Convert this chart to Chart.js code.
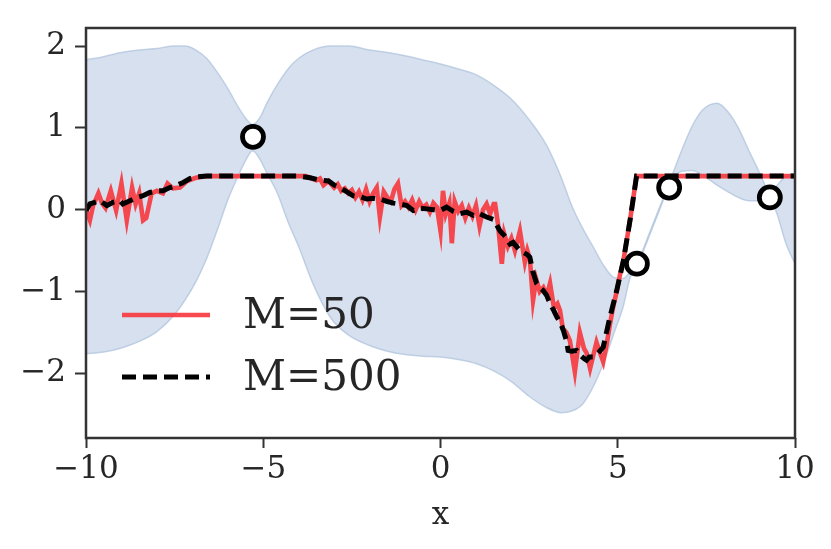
<!DOCTYPE html>
<html>
<head>
<meta charset="utf-8">
<script src="https://cdn.jsdelivr.net/npm/chart.js@4.4.1/dist/chart.umd.min.js"></script>
<style>
html,body{margin:0;padding:0;background:#fff;}
#wrap{width:831px;height:549px;}
</style>
</head>
<body>
<div id="wrap"><canvas id="c" width="831" height="549"></canvas></div>
<script>
// ---- data ----
const xTicks = [-10, -5, 0, 5, 10];
const yTicks = [-2, -1, 0, 1, 2];

const bandX = [-10,-9.5,-9,-8.5,-8,-7.5,-7.2,-6.9,-6.6,-6.3,-6.0,-5.7,-5.5,-5.3,-5.1,-4.9,-4.6,-4.3,-4.0,-3.6,-3.1,-2.6,-2.0,-1.5,-1.0,-0.5,0,0.5,1.0,1.5,2.0,2.5,3.0,3.4,3.7,4.0,4.3,4.6,4.9,5.15,5.35,5.6,5.9,6.2,6.5,6.8,7.1,7.4,7.8,8.1,8.4,8.7,9.0,9.3,9.5,9.75,10];
const bandUpper = [1.83,1.87,1.92,1.95,1.97,2.0,2.0,1.95,1.85,1.68,1.48,1.25,1.12,1.04,1.12,1.3,1.53,1.72,1.85,1.95,2.0,2.0,1.95,1.92,1.88,1.83,1.78,1.72,1.65,1.52,1.35,1.1,0.78,0.4,0.05,-0.22,-0.45,-0.68,-0.83,-0.84,-0.76,-0.6,-0.28,0.05,0.38,0.72,1.02,1.22,1.3,1.2,1.0,0.72,0.45,0.15,-0.06,-0.42,-0.66];
const bandLower = [-1.76,-1.74,-1.69,-1.61,-1.49,-1.28,-1.1,-0.88,-0.6,-0.25,0.12,0.42,0.6,0.72,0.62,0.45,0.2,-0.15,-0.45,-0.9,-1.32,-1.53,-1.66,-1.73,-1.77,-1.79,-1.8,-1.83,-1.88,-1.97,-2.1,-2.28,-2.42,-2.48,-2.46,-2.38,-2.17,-1.87,-1.5,-1.19,-0.83,-0.63,-0.31,0.02,0.35,0.47,0.48,0.42,0.3,0.22,0.15,0.11,0.11,0.18,0.3,0.41,0.44];

const m500X = [-10,-9.89,-9.75,-9.6,-9.41,-9.24,-9.04,-8.96,-8.76,-8.56,-8.39,-8.2,-8.0,-7.83,-7.63,-7.43,-7.27,-7.07,-6.87,-6.6,-6.0,-5.0,-4.0,-3.68,-3.4,-3.16,-3.0,-2.83,-2.65,-2.46,-2.28,-2.08,-1.9,-1.71,-1.5,-1.33,-1.15,-0.95,-0.77,-0.58,-0.39,-0.2,-0.01,0.17,0.36,0.55,0.74,0.93,1.1,1.3,1.5,1.68,1.85,1.96,2.05,2.2,2.33,2.45,2.52,2.6,2.71,2.8,2.9,3.0,3.09,3.18,3.28,3.38,3.47,3.55,3.6,3.7,3.84,3.95,4.05,4.12,4.2,4.3,4.45,4.59,4.78,4.97,5.16,5.35,5.53,7.0,10];
const m500Y = [-0.01,0.07,0.09,0.11,0.05,0.09,0.11,0.07,0.11,0.15,0.17,0.21,0.23,0.23,0.27,0.3,0.33,0.38,0.4,0.41,0.41,0.41,0.41,0.39,0.36,0.35,0.3,0.27,0.22,0.17,0.16,0.13,0.14,0.13,0.1,0.08,0.07,0.05,-0.01,0.02,0.01,0.0,-0.01,0.03,-0.02,-0.05,-0.03,-0.07,-0.05,-0.09,-0.12,-0.26,-0.34,-0.42,-0.4,-0.48,-0.52,-0.55,-0.58,-0.75,-0.9,-0.95,-0.99,-1.05,-1.15,-1.22,-1.31,-1.38,-1.48,-1.6,-1.72,-1.73,-1.72,-1.78,-1.82,-1.84,-1.8,-1.8,-1.75,-1.68,-1.31,-0.99,-0.62,-0.12,0.41,0.41,0.41];

const m50X = [-10,-9.89,-9.8,-9.65,-9.55,-9.45,-9.3,-9.15,-9.0,-8.85,-8.7,-8.6,-8.5,-8.39,-8.3,-8.15,-8.0,-7.83,-7.7,-7.55,-7.35,-7.15,-6.9,-6.6,-5.0,-3.8,-3.68,-3.5,-3.4,-3.3,-3.16,-3.0,-2.9,-2.8,-2.7,-2.6,-2.5,-2.4,-2.3,-2.2,-2.1,-2.0,-1.9,-1.8,-1.71,-1.6,-1.5,-1.4,-1.3,-1.2,-1.1,-1.0,-0.9,-0.8,-0.7,-0.6,-0.5,-0.4,-0.3,-0.2,-0.1,0.0,0.07,0.15,0.25,0.32,0.4,0.5,0.6,0.7,0.8,0.9,1.0,1.1,1.2,1.3,1.4,1.5,1.54,1.62,1.73,1.8,1.9,2.0,2.1,2.24,2.38,2.45,2.52,2.61,2.7,2.8,2.9,3.0,3.09,3.2,3.3,3.37,3.45,3.55,3.65,3.79,3.93,4.05,4.12,4.22,4.4,4.5,4.59,4.69,4.78,4.87,4.97,5.06,5.16,5.35,5.53,7.0,10];
const m50Y = [0.0,-0.13,0.05,0.2,0.08,0.02,0.23,-0.01,0.32,-0.13,0.27,0.07,0.2,-0.13,-0.1,0.2,0.23,0.2,0.32,0.26,0.27,0.35,0.39,0.41,0.41,0.41,0.39,0.36,0.38,0.3,0.35,0.27,0.31,0.23,0.26,0.2,0.24,0.15,0.22,0.12,0.25,0.1,0.2,0.27,-0.09,0.22,0.15,0.1,0.25,0.32,0.05,0.1,0.03,0.12,0.0,0.1,0.02,0.06,-0.03,0.08,0.03,-0.26,0.23,-0.05,0.08,-0.41,0.1,-0.02,0.05,-0.1,0.02,-0.08,0.05,-0.2,0.0,0.07,-0.05,0.07,0.07,-0.17,-0.66,-0.3,-0.45,-0.35,-0.5,-0.26,-0.64,-0.5,-0.6,-1.11,-0.85,-1.0,-0.95,-1.05,-0.9,-1.2,-1.15,-1.23,-1.45,-1.5,-1.6,-1.98,-1.5,-1.7,-1.75,-1.94,-1.62,-1.75,-1.86,-1.64,-1.4,-1.19,-1.0,-0.8,-0.62,-0.12,0.41,0.41,0.41];

const obsX = [-5.29, 5.54, 6.45, 9.29];
const obsY = [0.89, -0.66, 0.27, 0.15];

const seriesLabels = ['M=50', 'M=500'];
const xTitle = 'x';

// ---- build ----
const pts = (xs, ys) => xs.map((x, i) => ({x: x, y: ys[i]}));
const FONT = "'DejaVu Serif', 'Liberation Serif', serif";
const TXT = '#262626';
const fmt = v => (v < 0 ? '\u2212' + Math.abs(v) : String(v));
const tickFont = {family: FONT, size: 31};

const bandEdge = 'rgba(176,196,222,0.75)';
const bandFill = 'rgba(176,196,222,0.52)';

const legendPlugin = {
  id: 'insideLegend',
  afterDatasetsDraw(chart) {
    const ctx = chart.ctx;
    const a = chart.chartArea;
    const items = [chart.data.datasets[3], chart.data.datasets[2]];
    const rows = [a.top + 287, a.top + 349];
    ctx.save();
    items.forEach((ds, i) => {
      const y = rows[i];
      ctx.beginPath();
      ctx.lineWidth = ds.borderWidth;
      ctx.strokeStyle = ds.borderColor;
      ctx.setLineDash(ds.borderDash || []);
      ctx.lineCap = 'butt';
      ctx.moveTo(a.left + 36, y);
      ctx.lineTo(a.left + 124, y);
      ctx.stroke();
      ctx.setLineDash([]);
      ctx.fillStyle = TXT;
      ctx.font = '42px ' + FONT;
      ctx.textBaseline = 'middle';
      ctx.textAlign = 'left';
      ctx.fillText(ds.label, a.left + 157, y + 2);
    });
    ctx.restore();
  }
};

const framePlugin = {
  id: 'frame',
  afterDraw(chart) {
    const ctx = chart.ctx;
    const a = chart.chartArea;
    ctx.save();
    ctx.strokeStyle = '#333';
    ctx.lineWidth = 2.5;
    ctx.strokeRect(a.left, a.top, a.right - a.left, a.bottom - a.top);
    ctx.restore();
  }
};

new Chart(document.getElementById('c'), {
  type: 'line',
  data: {
    datasets: [
      {
        label: 'upper',
        data: pts(bandX, bandUpper),
        borderColor: bandEdge,
        borderWidth: 1.5,
        backgroundColor: bandFill,
        fill: '+1',
        pointRadius: 0,
        cubicInterpolationMode: 'monotone',
        order: 5
      },
      {
        label: 'lower',
        data: pts(bandX, bandLower),
        borderColor: bandEdge,
        borderWidth: 1.5,
        fill: false,
        pointRadius: 0,
        cubicInterpolationMode: 'monotone',
        order: 4
      },
      {
        label: seriesLabels[1],
        data: pts(m500X, m500Y),
        borderColor: '#000000',
        borderWidth: 5,
        borderDash: [14, 7],
        fill: false,
        pointRadius: 0,
        tension: 0,
        order: 1
      },
      {
        label: seriesLabels[0],
        data: pts(m50X, m50Y),
        borderColor: 'rgba(246,58,64,0.92)',
        borderWidth: 4.6,
        fill: false,
        pointRadius: 0,
        tension: 0,
        order: 2
      },
      {
        label: 'observations',
        data: pts(obsX, obsY),
        showLine: false,
        pointRadius: 10.5,
        pointBorderWidth: 4.8,
        pointBorderColor: '#000',
        pointBackgroundColor: '#fff',
        order: 0
      }
    ]
  },
  options: {
    responsive: false,
    animation: false,
    devicePixelRatio: 1,
    layout: {padding: {left: 0, right: 36, top: 28, bottom: 14}},
    plugins: {legend: {display: false}, tooltip: {enabled: false}},
    scales: {
      x: {
        type: 'linear',
        min: -10, max: 10,
        afterBuildTicks: s => { s.ticks = xTicks.map(v => ({value: v})); },
        afterFit: s => { s.height = 97; },
        grid: {display: true, drawOnChartArea: false, drawTicks: true, tickLength: 10, tickWidth: 2, tickColor: '#333'},
        border: {display: false},
        ticks: {color: TXT, font: tickFont, padding: 3, maxRotation: 0, callback: v => fmt(v)},
        title: {display: true, text: xTitle, color: TXT, font: tickFont, padding: {top: 0, bottom: 0}}
      },
      y: {
        type: 'linear',
        min: -2.79, max: 2.22,
        afterBuildTicks: s => { s.ticks = yTicks.map(v => ({value: v})); },
        afterFit: s => { s.width = 86; },
        grid: {display: true, drawOnChartArea: false, drawTicks: true, tickLength: 11, tickWidth: 2, tickColor: '#333'},
        border: {display: false},
        ticks: {color: TXT, font: tickFont, padding: 9, callback: v => fmt(v)}
      }
    }
  },
  plugins: [legendPlugin, framePlugin]
});
</script>
</body>
</html>
